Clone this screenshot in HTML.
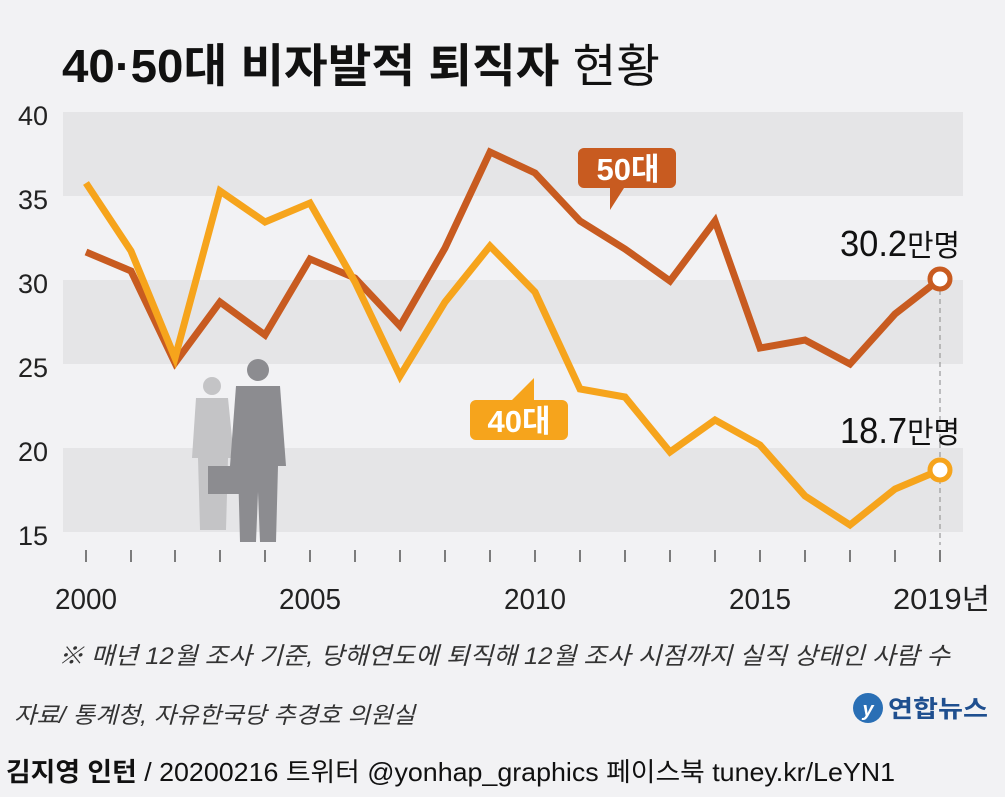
<!DOCTYPE html>
<html><head><meta charset="utf-8"><style>
body{margin:0;width:1005px;height:797px;background:#f2f2f4;overflow:hidden;font-family:"Liberation Sans","Noto Sans CJK KR",sans-serif;}
svg{position:absolute;left:0;top:0}
</style></head><body>
<svg width="1005" height="797" xmlns="http://www.w3.org/2000/svg" font-family="Liberation Sans, Noto Sans CJK KR, sans-serif">
<rect width="1005" height="797" fill="#f2f2f4"/>
<text x="62" y="82" font-size="46" font-weight="bold" fill="#111" textLength="598" lengthAdjust="spacingAndGlyphs">40·50대 비자발적 퇴직자 <tspan font-weight="normal">현황</tspan></text>
<rect x="63" y="112" width="900" height="84" fill="#e5e5e7"/>
<rect x="63" y="280" width="900" height="84" fill="#e5e5e7"/>
<rect x="63" y="448" width="900" height="84" fill="#e5e5e7"/>
<g font-size="27" fill="#222" text-anchor="end">
<text x="48" y="125">40</text><text x="48" y="209">35</text><text x="48" y="293">30</text>
<text x="48" y="377">25</text><text x="48" y="461">20</text><text x="48" y="545">15</text></g>
<g stroke="#555" stroke-width="1.5">
<line x1="86" y1="550" x2="86" y2="562"/><line x1="131" y1="550" x2="131" y2="562"/><line x1="175" y1="550" x2="175" y2="562"/><line x1="220" y1="550" x2="220" y2="562"/><line x1="265" y1="550" x2="265" y2="562"/><line x1="310" y1="550" x2="310" y2="562"/><line x1="355" y1="550" x2="355" y2="562"/><line x1="400" y1="550" x2="400" y2="562"/><line x1="445" y1="550" x2="445" y2="562"/><line x1="490" y1="550" x2="490" y2="562"/><line x1="535" y1="550" x2="535" y2="562"/><line x1="580" y1="550" x2="580" y2="562"/><line x1="625" y1="550" x2="625" y2="562"/><line x1="670" y1="550" x2="670" y2="562"/><line x1="715" y1="550" x2="715" y2="562"/><line x1="760" y1="550" x2="760" y2="562"/><line x1="805" y1="550" x2="805" y2="562"/><line x1="850" y1="550" x2="850" y2="562"/><line x1="895" y1="550" x2="895" y2="562"/><line x1="940" y1="550" x2="940" y2="562"/></g>
<g font-size="29" fill="#222">
<text x="55" y="609" textLength="62" lengthAdjust="spacingAndGlyphs">2000</text><text x="279" y="609" textLength="62" lengthAdjust="spacingAndGlyphs">2005</text><text x="504" y="609" textLength="62" lengthAdjust="spacingAndGlyphs">2010</text><text x="729" y="609" textLength="62" lengthAdjust="spacingAndGlyphs">2015</text><text x="893" y="609" textLength="97" lengthAdjust="spacingAndGlyphs">2019년</text></g>
<line x1="940" y1="290" x2="940" y2="545" stroke="#999" stroke-dasharray="5,4" stroke-width="1.2"/>
<g fill="#c4c4c6"><circle cx="212" cy="386" r="9"/><path d="M196 398 h32 l6 60 h-6 l-2 72 h-26 l-2-72 h-6z"/></g>
<g fill="#8c8c90"><circle cx="258" cy="370" r="11"/><path d="M236 386 h44 l6 80 h-8 l-2 76 h-16 l-2-50 l-2 50 h-16 l-2-76 h-8z"/><rect x="208" y="466" width="34" height="28"/></g>
<polyline fill="none" stroke="#c85b20" stroke-width="7" points="86,252 131,271 175,363 220,302 265,335 310,259 355,278 400,326 445,248 490,152 535,173 580,221 625,249 670,281 715,221 760,348 805,340 850,364 895,314 940,279"/>
<polyline fill="none" stroke="#f6a41c" stroke-width="7" points="86,183 131,251 175,358 220,191 265,222 310,203 355,282 400,376 445,302 490,246 535,292 580,389 625,397 670,452 715,420 760,445 805,496 850,525 895,489 940,470"/>
<circle cx="940" cy="279" r="10" fill="#fff" stroke="#c85b20" stroke-width="5"/>
<circle cx="940" cy="470" r="10" fill="#fff" stroke="#f6a41c" stroke-width="5"/>
<text x="840" y="256" font-size="36" fill="#111" textLength="120" lengthAdjust="spacingAndGlyphs">30.2<tspan font-size="30">만명</tspan></text>
<text x="840" y="443" font-size="36" fill="#111" textLength="120" lengthAdjust="spacingAndGlyphs">18.7<tspan font-size="30">만명</tspan></text>
<path d="M584 148 h86 a6 6 0 0 1 6 6 v28 a6 6 0 0 1 -6 6 h-46 l-14 22 v-22 h-26 a6 6 0 0 1 -6 -6 v-28 a6 6 0 0 1 6 -6z" fill="#c85b20"/>
<text x="628" y="180" font-size="31" font-weight="bold" fill="#fff" text-anchor="middle">50대</text>
<path d="M476 400 h86 a6 6 0 0 1 6 6 v28 a6 6 0 0 1 -6 6 h-86 a6 6 0 0 1 -6 -6 v-28 a6 6 0 0 1 6 -6 h36 l22 -22 v22z" fill="#f6a41c"/>
<text x="519" y="432" font-size="31" font-weight="bold" fill="#fff" text-anchor="middle">40대</text>
<text x="58" y="664" font-size="24" font-style="italic" fill="#333" textLength="892" lengthAdjust="spacingAndGlyphs">※ 매년 12월 조사 기준, 당해연도에 퇴직해 12월 조사 시점까지 실직 상태인 사람 수</text>
<text x="14" y="723" font-size="23" font-style="italic" fill="#333" textLength="401" lengthAdjust="spacingAndGlyphs">자료/ 통계청, 자유한국당 추경호 의원실</text>
<circle cx="868" cy="708" r="15" fill="#2a6fb5"/><text x="868" y="716" font-size="20" font-weight="bold" font-style="italic" fill="#fff" text-anchor="middle">y</text>
<text x="888" y="717" font-size="24" font-weight="bold" fill="#1f4f8f" textLength="100" lengthAdjust="spacingAndGlyphs">연합뉴스</text>
<text x="6" y="781" font-size="26" fill="#111" textLength="889" lengthAdjust="spacingAndGlyphs"><tspan font-weight="bold">김지영 인턴</tspan> / 20200216 트위터 @yonhap_graphics  페이스북 tuney.kr/LeYN1</text>
</svg>
</body></html>
